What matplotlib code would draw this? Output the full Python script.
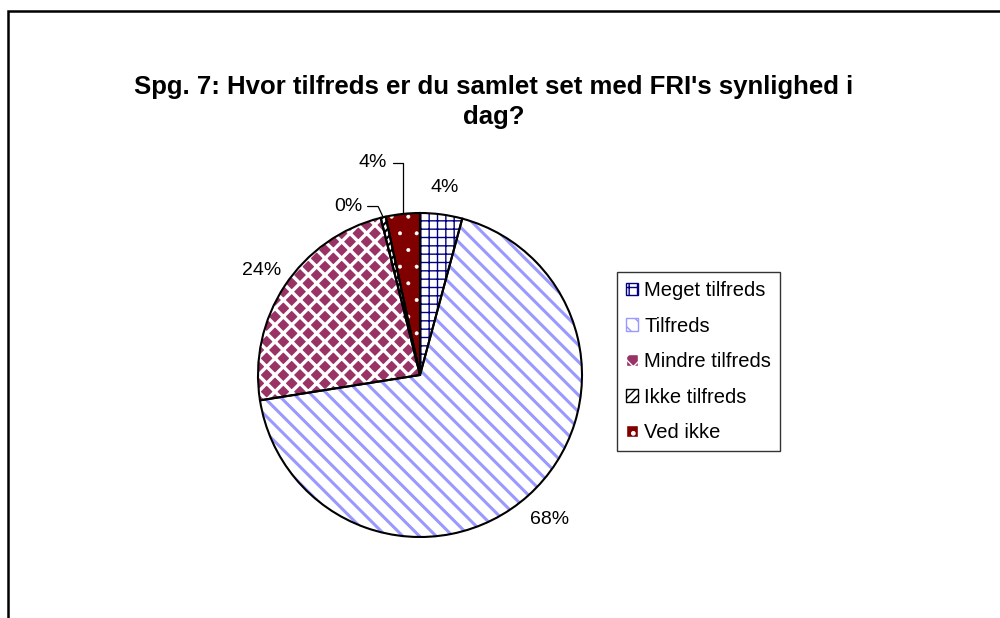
import numpy as np
import matplotlib
matplotlib.use("Agg")
import matplotlib.pyplot as plt
from matplotlib.patches import Rectangle

plt.rcParams['font.family'] = ['Liberation Sans', 'DejaVu Sans']

# data
categories = ['Meget tilfreds', 'Tilfreds', 'Mindre tilfreds', 'Ikke tilfreds', 'Ved ikke']
shares = [4.2, 68.3, 23.6, 0.5, 3.4]
pct_labels = ['4%', '68%', '24%', '0%', '4%']
title = "Spg. 7: Hvor tilfreds er du samlet set med FRI's synlighed i\ndag?"

# fill styles
face_cols = ['white', 'white', '#993366', 'white', '#800000']
hatch_cols = ['#000080', '#9999FF', 'white', 'black', 'white']
hatches = ['++', '\\\\', 'xx', '////', '.']
hatch_lw = [1.0, 2.2, 2.4, 1.6, 0.4]

fig = plt.figure(figsize=(10, 6.18), dpi=100)

# outer chart border (runs off the right and bottom edges)
fig.patches.append(Rectangle((8 / 1000, -0.1), 1.2, 1.1 - 11 / 618, transform=fig.transFigure,
                             fill=False, edgecolor='black', linewidth=1.8, clip_on=False))

fig.text(0.494, 1 - 102 / 618, title, ha='center', va='center', fontsize=18.5,
         fontweight='bold', linespacing=1.3)

cx, cy, r = 420, 375, 162
ax = fig.add_axes([(cx - r) / 1000, (618 - cy - r) / 618, 2 * r / 1000, 2 * r / 618])

wedges, _ = ax.pie(shares, startangle=90, counterclock=False, radius=1,
                   wedgeprops=dict(linewidth=0))
for w, fc, hc, h, lw in zip(wedges, face_cols, hatch_cols, hatches, hatch_lw):
    w.set_facecolor(fc)
    w.set_edgecolor(hc)
    w.set_hatch(h)
    if hasattr(w, 'set_hatch_linewidth'):
        w.set_hatch_linewidth(lw)

# outlines on top
ax.pie(shares, startangle=90, counterclock=False, radius=1,
       wedgeprops=dict(facecolor='none', edgecolor='black', linewidth=1.5))
ax.set_xlim(-1, 1)
ax.set_ylim(-1, 1)
ax.set_aspect('equal')
ax.axis('off')

# percentage labels
for i, w in enumerate(wedges):
    mid = np.deg2rad((w.theta1 + w.theta2) / 2)
    ex, ey = np.cos(mid), np.sin(mid)
    if i in (0, 1, 2):
        d = 1.17 if i != 1 else 1.2
        ax.text(d * ex, d * ey, pct_labels[i], ha='center', va='center', fontsize=14)
    elif i == 3:
        ax.annotate(pct_labels[i], xy=(ex, ey), xytext=(-0.445, 1.04),
                    ha='center', va='center', fontsize=14,
                    arrowprops=dict(arrowstyle='-', lw=0.9, color='black', relpos=(1, 0.5),
                                    shrinkA=2, shrinkB=0,
                                    connectionstyle='angle,angleA=0,angleB=115,rad=0'))
    else:
        ax.annotate(pct_labels[i], xy=(ex, ey), xytext=(-0.29, 1.31),
                    ha='center', va='center', fontsize=14,
                    arrowprops=dict(arrowstyle='-', lw=0.9, color='black', relpos=(1, 0.5),
                                    shrinkA=2, shrinkB=0,
                                    connectionstyle='angle,angleA=0,angleB=90,rad=0'))

# legend
handles = [Rectangle((0, 0), 1, 1, facecolor=fc, edgecolor=hc, hatch=h, linewidth=1)
           for fc, hc, h in zip(face_cols, hatch_cols, hatches)]
leg = fig.legend(handles, categories, loc='upper left',
                 bbox_to_anchor=(617 / 1000, 1 - 272 / 618), fontsize=14.5,
                 frameon=True, fancybox=False, borderaxespad=0, borderpad=0.45,
                 handlelength=0.6, handleheight=0.6, handletextpad=0.3,
                 labelspacing=0.82)
leg.get_frame().set_edgecolor('black')
leg.get_frame().set_linewidth(1.0)

fig.savefig('out.png', dpi=100)
